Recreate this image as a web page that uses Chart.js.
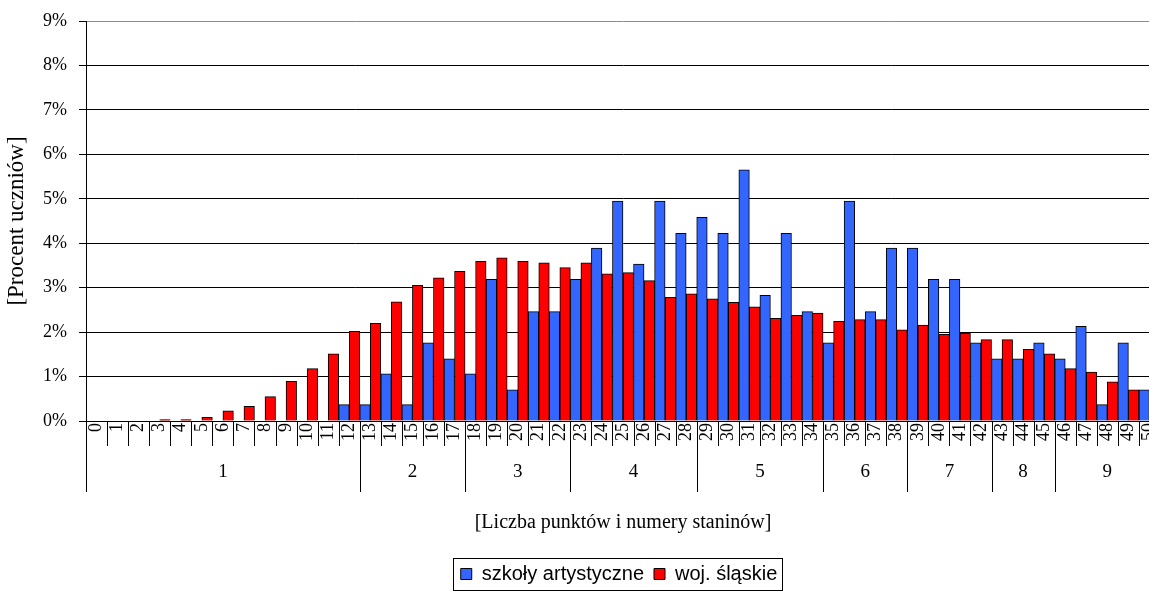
<!DOCTYPE html>
<html>
<head>
<meta charset="utf-8">
<script src="https://cdn.jsdelivr.net/npm/chart.js@4"></script>
<style>
  html, body { margin: 0; padding: 0; overflow: hidden; background: #fff; }
</style>
</head>
<body>
<canvas id="staninyChart" width="1161" height="591"></canvas>
<script>
// Liczba punktów (kategorie na osi X)
const points = ['0','1','2','3','4','5','6','7','8','9','10','11','12','13','14','15','16','17','18','19','20',
  '21','22','23','24','25','26','27','28','29','30','31','32','33','34','35','36','37','38','39','40',
  '41','42','43','44','45','46','47','48','49','50'];

// Procent uczniów - szkoły artystyczne
const artSchools = [0, 0, 0, 0, 0, 0, 0, 0, 0, 0, 0, 0, 0.37, 0.37, 1.06, 0.37, 1.76, 1.40, 1.06, 3.19, 0.70,
  2.46, 2.46, 3.19, 3.89, 4.95, 3.53, 4.95, 4.22, 4.58, 4.22, 5.65, 2.83, 4.22, 2.46, 1.76, 4.95, 2.46, 3.89, 3.89, 3.19,
  3.19, 1.76, 1.40, 1.40, 1.76, 1.40, 2.13, 0.37, 1.76, 0.70];

// Procent uczniów - woj. śląskie
const silesia = [0, 0, 0, 0.03, 0.03, 0.08, 0.23, 0.33, 0.55, 0.89, 1.18, 1.51, 2.02, 2.20, 2.68, 3.05, 3.22, 3.37, 3.59, 3.67, 3.59,
  3.56, 3.45, 3.56, 3.31, 3.34, 3.16, 2.78, 2.86, 2.75, 2.67, 2.57, 2.31, 2.38, 2.43, 2.24, 2.28, 2.28, 2.05, 2.16, 1.95,
  1.98, 1.83, 1.83, 1.61, 1.51, 1.18, 1.10, 0.88, 0.70, 0.45];

// Staniny: numer i pierwsza liczba punktów w staninie
const stanineLabels = ['1', '2', '3', '4', '5', '6', '7', '8', '9'];
const stanineStarts = [0, 13, 18, 23, 29, 35, 39, 43, 46];

const yTicks = [0, 1, 2, 3, 4, 5, 6, 7, 8, 9];

const serif = "'Liberation Serif', 'Times New Roman', serif";

// rysuje podpisy staninów, kreski podziału i ramkę legendy
const stanineAxis = {
  id: 'stanineAxis',
  afterLayout(chart) {
    // legenda wyśrodkowana pod widoczną częścią wykresu
    const lg = chart.legend;
    lg.left += 39;
    lg.right += 39;
    lg.top += 3;
    lg.bottom += 3;
  },
  afterDraw(chart) {
    const ctx = chart.ctx;
    const x = chart.scales.x;
    const area = chart.chartArea;
    const bottom = area.bottom;
    const half = (x.getPixelForValue(1) - x.getPixelForValue(0)) / 2;
    ctx.save();
    ctx.strokeStyle = '#000';
    ctx.lineWidth = 1;
    ctx.beginPath();
    // krótkie kreski między liczbami punktów
    for (let i = 1; i < points.length; i++) {
      const px = Math.round(x.getPixelForValue(i) - half) + 0.5;
      ctx.moveTo(px, bottom);
      ctx.lineTo(px, bottom + 25);
    }
    // długie kreski między staninami i przedłużenie osi Y
    const ax = Math.round(area.left) + 0.5;
    ctx.moveTo(ax, bottom);
    ctx.lineTo(ax, bottom + 71);
    for (let s = 1; s < stanineStarts.length; s++) {
      const px = Math.round(x.getPixelForValue(stanineStarts[s]) - half) + 0.5;
      ctx.moveTo(px, bottom);
      ctx.lineTo(px, bottom + 71);
    }
    ctx.stroke();

    // numery staninów
    ctx.fillStyle = '#000';
    ctx.font = '19px ' + serif;
    ctx.textAlign = 'center';
    ctx.textBaseline = 'middle';
    for (let s = 0; s < stanineStarts.length; s++) {
      const first = stanineStarts[s];
      const last = s + 1 < stanineStarts.length ? stanineStarts[s + 1] - 1 : points.length - 1;
      const cx = (x.getPixelForValue(first) + x.getPixelForValue(last)) / 2;
      ctx.fillText(stanineLabels[s], cx, bottom + 51);
    }

    // ramka legendy
    const hb = chart.legend.legendHitBoxes;
    if (hb && hb.length) {
      const l = Math.min(...hb.map(b => b.left)) - 8;
      const r = Math.max(...hb.map(b => b.left + b.width)) + 4;
      const t = Math.min(...hb.map(b => b.top)) - 6;
      const b2 = Math.max(...hb.map(b => b.top + b.height)) + 6;
      ctx.strokeRect(Math.round(l) + 0.5, Math.round(t) + 0.5, Math.round(r - l), Math.round(b2 - t));
    }
    ctx.restore();
  }
};

new Chart(document.getElementById('staninyChart').getContext('2d'), {
  type: 'bar',
  data: {
    labels: points,
    datasets: [
      {
        label: 'szkoły artystyczne',
        data: artSchools,
        backgroundColor: '#3366FF',
        borderColor: '#000',
        borderWidth: 1,
        barPercentage: 1,
        categoryPercentage: 1
      },
      {
        label: 'woj. śląskie',
        data: silesia,
        backgroundColor: '#FF0000',
        borderColor: '#000',
        borderWidth: 1,
        barPercentage: 1,
        categoryPercentage: 1
      }
    ]
  },
  options: {
    responsive: false,
    animation: false,
    layout: { padding: { top: 21, right: 1, left: 0, bottom: 0 } },
    plugins: {
      tooltip: { enabled: false },
      legend: {
        position: 'bottom',
        labels: {
          color: '#000',
          font: { family: "'Liberation Sans', Arial, sans-serif", size: 20 },
          boxWidth: 11,
          boxHeight: 11,
          padding: 10
        }
      }
    },
    scales: {
      x: {
        grid: { display: false, drawTicks: false },
        border: { display: true, color: '#000' },
        ticks: {
          autoSkip: false,
          maxRotation: 90,
          minRotation: 90,
          padding: 2,
          color: '#000',
          font: { family: serif, size: 18 }
        },
        title: {
          display: true,
          text: '[Liczba punktów i numery staninów]',
          color: '#000',
          font: { family: serif, size: 20 },
          padding: { top: 0, bottom: 16 }
        },
        afterFit(scale) {
          scale.height = 130;
          scale.paddingLeft = 0;
          scale.paddingRight = 0;
        }
      },
      y: {
        min: 0,
        max: 9,
        afterBuildTicks(scale) {
          scale.ticks = yTicks.map(v => ({ value: v }));
        },
        grid: {
          color: ctx => (ctx.tick && ctx.tick.value === 9 ? '#8c8c8c' : '#000'),
          tickColor: '#000',
          tickLength: 7,
          lineWidth: 1
        },
        border: { display: true, color: '#000' },
        ticks: {
          padding: 12,
          color: '#000',
          font: { family: serif, size: 18 },
          callback: v => v + '%'
        },
        title: {
          display: true,
          text: '[Procent uczniów]',
          color: '#000',
          font: { family: serif, size: 23 },
          padding: { top: 3, bottom: 0 }
        },
        afterFit(scale) {
          scale.width = 86;
          scale.paddingTop = 0;
          scale.paddingBottom = 0;
        }
      }
    }
  },
  plugins: [stanineAxis]
});
</script>
</body>
</html>
